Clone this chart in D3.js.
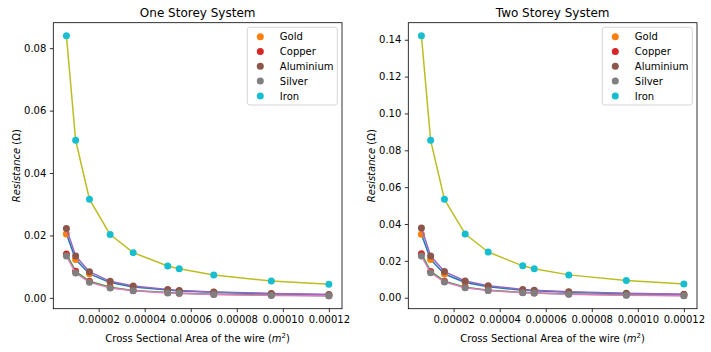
<!DOCTYPE html>
<html>
<head>
<meta charset="utf-8">
<script src="https://cdn.jsdelivr.net/npm/d3@7"></script>
<style>
  body { margin: 0; background: #fff; }
  svg { display: block; font-family: "DejaVu Sans", sans-serif; }
</style>
</head>
<body>
<div id="cont"></div>
<script>
// Data (areas in m^2, resistance in ohm)
var areas = [6e-6, 1e-5, 1.6e-5, 2.5e-5, 3.5e-5, 5e-5, 5.5e-5, 7e-5, 9.5e-5, 1.2e-4];
var metals = ["Gold", "Copper", "Aluminium", "Silver", "Iron"];
var xTicks = [0.00002, 0.00004, 0.00006, 0.00008, 0.00010, 0.00012];

var oneGold   = [0.0205, 0.0123, 0.0077, 0.0049, 0.0035, 0.0025, 0.0022, 0.0018, 0.0013, 0.0010];
var oneCopper = [0.0141, 0.0085, 0.0053, 0.0034, 0.0024, 0.0017, 0.0015, 0.0012, 0.0009, 0.0007];
var oneAlum   = [0.0222, 0.0134, 0.0084, 0.0053, 0.0038, 0.0027, 0.0024, 0.0019, 0.0014, 0.0011];
var oneSilver = [0.0134, 0.0080, 0.0050, 0.0032, 0.0023, 0.0016, 0.0015, 0.0011, 0.0008, 0.0007];
var oneIron   = [0.0840, 0.0505, 0.0316, 0.0203, 0.0145, 0.0102, 0.0093, 0.0073, 0.0054, 0.0044];

var twoGold   = [0.0345, 0.0207, 0.0129, 0.0083, 0.0059, 0.0041, 0.0038, 0.0030, 0.0022, 0.0017];
var twoCopper = [0.0239, 0.0143, 0.0090, 0.0057, 0.0041, 0.0029, 0.0026, 0.0020, 0.0015, 0.0012];
var twoAlum   = [0.0378, 0.0227, 0.0142, 0.0091, 0.0065, 0.0045, 0.0041, 0.0032, 0.0024, 0.0019];
var twoSilver = [0.0226, 0.0136, 0.0085, 0.0054, 0.0039, 0.0027, 0.0025, 0.0019, 0.0014, 0.0011];
var twoIron   = [0.1422, 0.0854, 0.0534, 0.0346, 0.0248, 0.0173, 0.0157, 0.0124, 0.0093, 0.0075];

// matplotlib cycle: line takes C0, scatter takes C1, ...
var lineColors = ["#1f77b4", "#2ca02c", "#9467bd", "#e377c2", "#bcbd22"];
var dotColors  = ["#ff7f0e", "#d62728", "#8c564b", "#7f7f7f", "#17becf"];

var svg = d3.select("#cont").append("svg")
    .attr("width", 711)
    .attr("height", 352);

function pad(ext) {
    var m = (ext[1] - ext[0]) * 0.05;
    return [ext[0] - m, ext[1] + m];
}

function drawPanel(left, title, series, yTicks) {
    var top = 22.7, bottom = 308.7, right = left + 288.7;

    var x = d3.scaleLinear()
        .domain(pad(d3.extent(areas)))
        .range([left, right]);

    var allY = d3.merge(series);
    var y = d3.scaleLinear()
        .domain(pad(d3.extent(allY)))
        .range([bottom, top]);

    var g = svg.append("g");

    var line = d3.line()
        .x(function(d, i) { return x(areas[i]); })
        .y(function(d) { return y(d); });

    series.forEach(function(s, k) {
        g.append("path")
            .datum(s)
            .attr("d", line)
            .attr("fill", "none")
            .attr("stroke", lineColors[k])
            .attr("stroke-width", 1.5)
            .attr("stroke-linejoin", "round")
            .attr("stroke-linecap", "square");
        g.selectAll(".dot" + k)
            .data(s)
            .enter().append("circle")
            .attr("class", "dot" + k)
            .attr("cx", function(d, i) { return x(areas[i]); })
            .attr("cy", function(d) { return y(d); })
            .attr("r", 3.5)
            .attr("fill", dotColors[k]);
    });

    // axes
    var xAxis = d3.axisBottom(x)
        .tickValues(xTicks)
        .tickSize(3.5)
        .tickPadding(3.5)
        .tickFormat(d3.format(".5f"));
    var yAxis = d3.axisLeft(y)
        .tickValues(yTicks)
        .tickSize(3.5)
        .tickPadding(3.5)
        .tickFormat(d3.format(".2f"));

    var xa = g.append("g")
        .attr("transform", "translate(0," + bottom + ")")
        .call(xAxis);
    var ya = g.append("g")
        .attr("transform", "translate(" + left + ",0)")
        .call(yAxis);
    [xa, ya].forEach(function(a) {
        a.select(".domain").remove();
        a.selectAll("line").attr("stroke", "#000").attr("stroke-width", 0.8);
        a.selectAll("text")
            .attr("fill", "#000")
            .style("font-size", "10px")
            .style("font-family", "DejaVu Sans");
    });

    g.append("rect")
        .attr("x", left)
        .attr("y", top)
        .attr("width", right - left)
        .attr("height", bottom - top)
        .attr("fill", "none")
        .attr("stroke", "#000")
        .attr("stroke-width", 0.8);

    // title
    g.append("text")
        .attr("x", (left + right) / 2)
        .attr("y", 17)
        .attr("text-anchor", "middle")
        .style("font-size", "12px")
        .text(title);

    // x label
    var xl = g.append("text")
        .attr("x", (left + right) / 2)
        .attr("y", 342)
        .attr("text-anchor", "middle")
        .style("font-size", "10px");
    xl.append("tspan").text("Cross Sectional Area of the wire (");
    xl.append("tspan").style("font-style", "italic").text("m");
    xl.append("tspan").attr("dy", -4).style("font-size", "7px").text("2");
    xl.append("tspan").attr("dy", 4).text(")");

    // y label
    var yl = g.append("text")
        .attr("transform", "translate(" + (left - 33.5) + "," + ((top + bottom) / 2) + ") rotate(-90)")
        .attr("text-anchor", "middle")
        .style("font-size", "10px");
    yl.append("tspan").style("font-style", "italic").text("Resistance");
    yl.append("tspan").text(" (\u03A9)");

    // legend
    var lw = 90, lh = 77.7;
    var lx = right - 4.7 - lw, ly = top + 4.6;
    var leg = g.append("g");
    leg.append("rect")
        .attr("x", lx)
        .attr("y", ly)
        .attr("width", lw)
        .attr("height", lh)
        .attr("rx", 2.5)
        .attr("fill", "#fff")
        .attr("fill-opacity", 0.8)
        .attr("stroke", "#cccccc")
        .attr("stroke-width", 0.8);
    metals.forEach(function(m, k) {
        var cy = ly + 9.4 + k * 14.8;
        leg.append("circle")
            .attr("cx", lx + 13)
            .attr("cy", cy)
            .attr("r", 3.5)
            .attr("fill", dotColors[k]);
        leg.append("text")
            .attr("x", lx + 32.5)
            .attr("y", cy + 3.6)
            .style("font-size", "10px")
            .text(m);
    });
}

drawPanel(53.3, "One Storey System",
    [oneGold, oneCopper, oneAlum, oneSilver, oneIron],
    [0, 0.02, 0.04, 0.06, 0.08]);
drawPanel(408.3, "Two Storey System",
    [twoGold, twoCopper, twoAlum, twoSilver, twoIron],
    [0, 0.02, 0.04, 0.06, 0.08, 0.10, 0.12, 0.14]);
</script>
</body>
</html>
